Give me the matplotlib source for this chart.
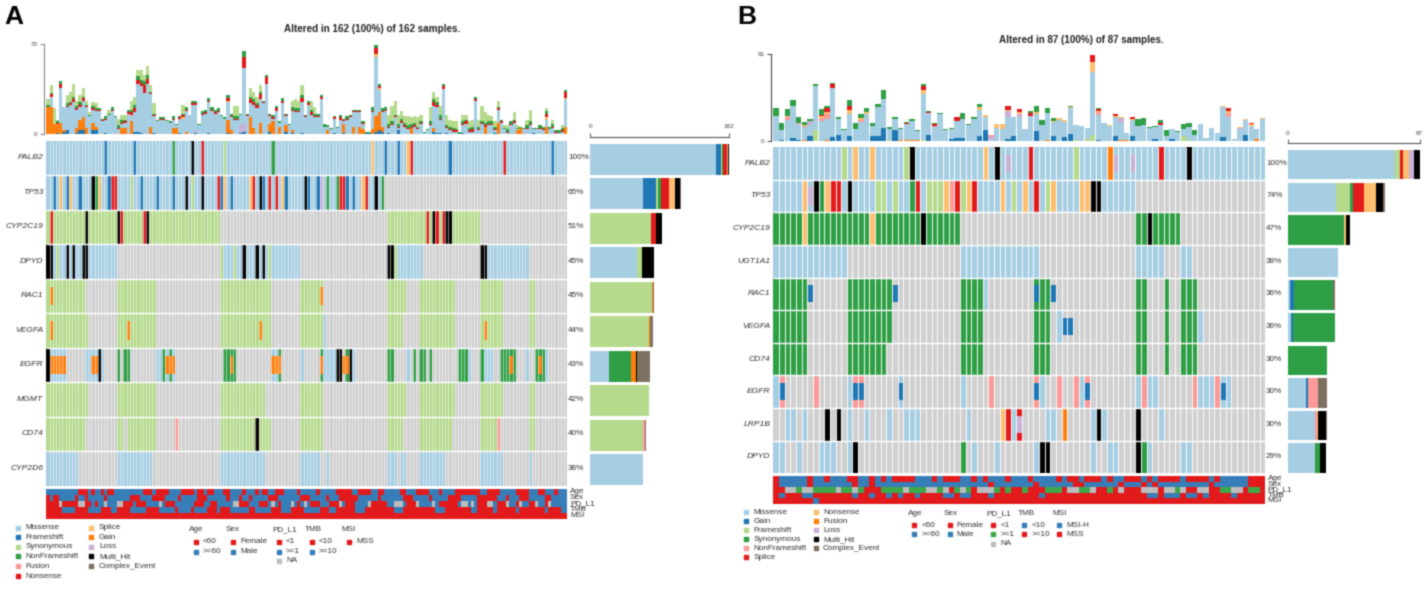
import numpy as np
import matplotlib
matplotlib.use("Agg")
import matplotlib.pyplot as plt
from matplotlib.colors import ListedColormap

plt.rcParams['font.family'] = ['Liberation Sans', 'DejaVu Sans']

W, H = 1428, 589
# sample classes: a missense-blue, b blue, c light green, d green, e pink, f red,
# g light orange, h orange, i purple, k black, m brown, . no alteration
CODES = ".abcdefghikm"
COLORS = ["#d0d0d0", "#a6cee3", "#1f78b4", "#b5da8c", "#2f9f45", "#fb9a99", "#e31a1c",
          "#fdbf6f", "#ff7f0e", "#cab2d6", "#000000", "#7d7262"]
ANNO_CODES = "rbng"
ANNO_COLORS = ["#e31a1c", "#377eb8", "#bdbdbd", "#3fa94a"]

genes_a = ["PALB2", "TP53", "CYP2C19", "DPYD", "RAC1", "VEGFA", "EGFR", "MGMT", "CD74", "CYP2D6"]
pct_a = ["100%", "65%", "51%", "45%", "45%", "44%", "43%", "42%", "40%", "38%"]
genes_b = ["PALB2", "TP53", "CYP2C19", "UGT1A1", "RAC1", "VEGFA", "CD74", "EGFR", "LRP1B", "DPYD"]
pct_b = ["100%", "74%", "47%", "38%", "36%", "36%", "30%", "30%", "30%", "29%"]
anno_names = ["Age", "Sex", "PD_L1", "TMB", "MSI"]

# tokens: later ones overwrite earlier ones, * marks a copy number box inside the cell
rows_a = [
    "a0-161 b18 b27 d39 k45 f48 c55 d70 g101 b105 b109 g112 f113 b125 f142 b157",
    "a0-104 b2 g4 b6 g7 b10 k14 d15 g16 b19 f20 f21 c26 b29 b34 b39 k43 c45 k48 f53 b54 g55 b57 g63 f64 "
    "k66 b67 f69 f71 g73 b74 k80 b81 b84 i85 d87 d90 f91 f92 b93 b95 g98 f99 k102 d104",
    "c0-53 f1 k12 k22 f23 f30 k31 c106-134 f118 k120 f121 f123 k124 k125",
    "a0-21 k0 k1 c3 k6 k8 k11 k12 a54-78 c54 c58 k61 k65 k67 c69 k106 k107 a108-116 c108 k135 k136 a137-149",
    "c0-11 *h1 c22-33 c54-69 c79-85 *h85 c106-111 c116-126 c135-141 c150-151",
    "c0-12 *h1 c22-33 *h25 c54-69 *h66 c79-85 a86 c106-110 c116-126 c135-141 *h136 c150-151",
    "k0 a1-5 *h1 *h2 *h3 *h4 *h5 a12-13 a14-16 *h14 *h15 k16 a17 d22 d24 d25 a34-39 d36 *h37 *h38 d38 *h39 "
    "d55-58 *h57 a70-71 *h70 *h71 d72 *h72 a79 d85 *h85 a86-89 k90 k91 *h92 d93 *h93 k94 a95 d106 d107 a112 "
    "d114 d116 d117 d119 d128-130 a131 d135 a136-138 d141-145 *h144 a149 d152-154 *h153 a155",
    "c0-12 c22-33 c54-67 c79-85 c106-111 c116-126 c135-141 c150-151",
    "c0-11 c22-23 c25-33 e40 c54-69 k65 c79-85 c106-110 c116-125 c135-139 e140 c150-151",
    "a0-9 a22-32 a54-67 a79-84 a87 a106-108 a110-111 a116-123 a135-141 a150",
]
rows_b = [
    "a0-86 c12 g14 g17 c23 k24 g37 k39 *i41 f45 c53 h59 *i60 *i63 f68 k73",
    "a0-63 g5 *i6 k7 d8 g9 f10 f11 k13 c18 c19 c21 d24 f25 c27-29 g30 e31 f32 c33 g34 f35 g40 c42 g44 f46 "
    "c48 g49 g54 g55 k56 k57",
    "d0-32 g5 g17 k26 d64-71 k66",
    "a0-12 a33-46 a64-68 a72-73",
    "d0-5 *b6 d13-20 *b21 d33-36 a37 d46-48 *b46 *b49 d64-65 d69 d72-74",
    "d0-5 d13-20 d33-36 d46-48 a50 *b51 *b52 d64-65 d69 d72-74 a75",
    "d0-5 d13-19 d33-36 d46-48 d64-65 d69 d72-74",
    "a0 e1 *b1 e7 a13 e14 e15 *b14 *b15 a22 *b22 a33 e38 e46 *b46 a47 e50 e53 a54 e55 *b55 a64 e65 a66 a67 "
    "e74 a75-77 e78 a79 *b79 a80",
    "a2 a3 a5 k9 k11 a13 a16 a20 a23-25 a34 g40 f41 a42 f43 *i43 a48 a49 h51 a56 k57 a58 k64 a68",
    "a0 a1 a4 a8-10 a13 k14 d33 a35 a39 a46 k47 k48 a56 a59 a60 k64 d65 a66 a72 a73",
]
side_a = ["a146 b6 c1 d2 f4 g2 k1", "a62 b15 c2 d3 f10 g7 k6 m1", "c71 f5 k7", "a54 c6 k14", "c72 h1 m1",
          "c68 h1 m4", "a22 d25 h6 k2 m15", "c68", "c62 e2 m1", "a62"]
side_b = ["a71 c3 f2 g4 i3 k4", "a32 c9 d2 f7 g8 k5 m1", "d37 g1 k3", "a33", "a1 b3 d26 m1",
          "a2 b1 d28", "d26", "a12 b1 e7 m6", "a18 e1 g1 k5 m1", "a18 d3 k4"]

anno_a = [
    "b0-161 r10-12 r14 r17 r19-20 r30-32 r34-37 r42-45 r47-48 r50-51 r55-56 r61 r65 r67-68 r71-73 r78 r84 r90-94 "
    "r97-100 r103-104 r110-111 r115-118 r122 r127-134 r137-140 r146-149 r153-154 r158",
    "b0-161 r0 r2-3 r9 r12 r18 r26-28 r33-36 r41 r47-49 r56 r60 r63 r69-71 r79-81 r87 r91-96 r103 r111-113 r119 "
    "r125-128 r134-139 r143 r147-149 r155-156",
    "b0-161 r0-3 r5-9 r12-13 r15 r24-26 r28-30 r37-39 r46-48 r51-52 r60-62 r66-68 r72 r78 r82-84 r88-90 r93-95 "
    "r101-105 r112-114 r122-127 r134-136 r140-142 r146 r150-151 r155 n4 n10-11 n18 n22-23 n35 n58-59 n70 n76 n80 "
    "n91 n100 n108-110 n115 n120 n129-130 n132 n137-138 n143 n147 n152 n156",
    "r0-161 b5-8 b13-16 b20-21 b26-30 b35-39 b41-44 b46-49 b53 b57-62 b65-69 b73-75 b80-84 b88-89 b96-98 b108-110 "
    "b121-123 b132-133 b139 b146 b155 b160-161",
    "r0-161",
]
anno_b = [
    "b0-86 r0 r6 r9 r13-14 r17 r19 r21-24 r28 r30-32 r35 r37 r41 r45 r50 r52-53 r55-57 r59 r62-64 r66 r68-71 "
    "r73-76 r78 r84-86",
    "b0-86 r0 r6 r14 r17 r38 r46 r53-54 r61 r65 r67 r77 r84-86",
    "r0-86 n2-3 g4 n5-6 g7-10 n11 g12-13 n14 g15 g19-22 n23 g24-26 n27-28 g29 n30 g32 n33 g34 n36-37 n38 g39 g41 "
    "g44 g48-50 n52-53 g54-55 n56 g59 n61 n65-67 n69-70 g71 n72 n75-76 g79-80 n81-82 g84-85",
    "r0-86 b1 b5-6 b14 b17 b20 b22 b25 b30-31 b33-34 b38 b47 b66-67 b69-70 b71 b73-74 b76 b81",
    "r0-86 b7",
]

# samples' mutation load, top bars
total_a = [14, 38, 16, 11, 41, 21, 30, 33, 39, 26, 30, 36, 26, 17, 25, 24, 20, 12, 14, 19,
           21, 14, 12, 15, 15, 19, 26, 29, 50, 50, 46, 53, 38, 24, 11, 13, 13, 11, 10, 14,
           8, 14, 23, 21, 15, 26, 26, 8, 18, 19, 28, 21, 19, 20, 15, 13, 30, 16, 22, 22,
           16, 64, 16, 36, 33, 29, 38, 26, 46, 16, 15, 22, 10, 28, 16, 8, 26, 27, 26, 38,
           15, 26, 26, 21, 16, 30, 8, 7, 5, 14, 6, 15, 12, 14, 15, 19, 19, 19, 10, 1,
           1, 21, 69, 39, 20, 21, 15, 22, 26, 15, 18, 14, 14, 8, 14, 13, 15, 2, 4, 21,
           33, 29, 22, 39, 15, 11, 10, 10, 2, 15, 15, 10, 11, 29, 11, 22, 14, 15, 14, 10,
           26, 11, 7, 7, 10, 17, 7, 5, 5, 11, 19, 5, 5, 7, 6, 20, 6, 11, 2, 3, 7, 34]
blue_a = {3: 1, 5: 2, 6: 3, 9: 1, 10: 3, 11: 3, 14: 3, 15: 3, 18: 1, 27: 2, 28: 2, 29: 1, 33: 1, 41: 1, 46: 1,
          50: 1, 56: 1, 60: 1, 61: 2, 69: 2, 74: 2, 76: 1, 79: 1, 89: 1, 92: 1, 99: 1, 100: 1, 102: 2, 103: 3,
          104: 2, 106: 1, 109: 3, 120: 2, 121: 1, 122: 1, 124: 1, 129: 1, 139: 1, 151: 1}
gain_a = {0: 21, 1: 21, 2: 8, 3: 7, 4: 9, 5: 1, 9: 4, 10: 8, 11: 10, 12: 5, 14: 6, 15: 3, 23: 5, 24: 5, 26: 10,
          32: 6, 39: 5, 40: 5, 43: 2, 56: 10, 57: 3, 63: 13, 64: 5, 66: 9, 69: 6, 70: 10, 72: 6, 74: 5, 76: 2,
          87: 3, 92: 7, 95: 6, 97: 6, 98: 4, 101: 4, 102: 12, 103: 14, 104: 4, 113: 5, 120: 3, 136: 6, 140: 9,
          146: 3, 147: 5, 155: 6, 161: 6}
purple_a = {60: 6, 61: 6, 46: 2, 21: 2, 148: 2, 158: 1}
splice_a = {26: 1, 42: 1, 56: 1, 102: 2, 103: 2, 155: 2, 161: 1}
red_a = "0201301121" "2210111110" "1011112333" "6411011001" "0121011011" "1111002111" "0913234151" \
        "1202101113" "1121120001" "0211111110" "0151111111" "1111111001" "3212111101" "2121111111" \
        "1101110001" "1001130110" "15"
green_a = "2101202122" "2111211121" "2122122332" "3311111112" "1112022122" "2222112222" "1412212121" \
          "2212112222" "1222212111" "1212111111" "1322222212" "2222211112" "2232122122" "1222212222" \
          "1112211112" "2112222212" "21"
syn_a = {0: 4, 1: 6, 2: 12, 3: 1, 6: 6, 7: 8, 8: 10, 9: 4, 10: 5, 11: 7, 12: 3, 13: 2, 14: 3, 15: 4, 19: 3, 22: 5,
         23: 4, 24: 4, 26: 7, 27: 6, 28: 5, 29: 8, 30: 5, 31: 7, 32: 5, 33: 8, 42: 7, 58: 8, 59: 8, 63: 7, 64: 6,
         65: 5, 66: 5, 76: 5, 77: 7, 78: 6, 79: 8, 82: 7, 83: 5, 106: 7, 107: 12, 108: 11, 109: 7, 110: 6, 111: 5,
         112: 7, 113: 5, 114: 5, 115: 7, 116: 5, 119: 11, 120: 6, 121: 4, 122: 7, 124: 8, 125: 5, 126: 5, 127: 6,
         129: 5, 130: 4, 131: 5, 132: 5, 134: 5, 135: 12, 136: 8, 137: 5, 138: 4, 139: 4, 140: 5, 142: 2, 143: 3,
         145: 6, 146: 2, 149: 4, 150: 9, 155: 2, 157: 3, 160: 2}

total_b = [34, 19, 33, 43, 25, 20, 23, 59, 33, 36, 60, 25, 12, 43, 19, 28, 34, 19, 39, 53,
           15, 25, 14, 20, 23, 11, 59, 31, 19, 29, 12, 14, 25, 29, 18, 25, 39, 27, 6, 18,
           18, 36, 25, 33, 13, 31, 36, 22, 34, 24, 24, 22, 36, 17, 16, 14, 90, 34, 19, 17,
           28, 25, 8, 25, 23, 24, 15, 16, 22, 11, 13, 10, 18, 19, 11, 18, 3, 14, 8, 36,
           34, 2, 15, 23, 19, 12, 24]
blue_b = {1: 1, 3: 3, 4: 1, 6: 5, 10: 4, 11: 6, 13: 5, 17: 5, 18: 5, 19: 14, 21: 11, 27: 6, 31: 2, 32: 3, 33: 3,
          36: 5, 37: 11, 41: 2, 42: 5, 46: 10, 49: 5, 51: 4, 52: 7, 57: 1, 60: 5, 63: 5, 67: 2, 70: 2, 79: 4, 83: 6}
orange_b = {5: 1, 9: 1, 22: 1, 23: 1, 24: 1, 25: 1, 48: 1, 61: 1, 62: 1, 85: 2}
syn_b = {7: 11, 20: 1, 26: 1, 53: 1, 55: 2, 56: 6, 72: 5, 73: 1}
purple_b = {6: 4, 38: 3, 41: 6, 43: 3, 61: 5, 82: 1}
pink_b = {2: 3, 4: 1, 5: 1, 8: 3, 9: 5, 15: 2, 28: 1, 38: 2, 57: 3, 80: 4}
splice_b = {2: 1, 5: 1, 8: 2, 9: 2, 13: 4, 15: 2, 16: 2, 26: 4, 36: 3, 37: 2, 39: 4, 40: 6, 41: 1, 43: 2, 44: 1,
            46: 2, 49: 1, 50: 2, 51: 2, 52: 1, 56: 10, 57: 1, 59: 1, 60: 1, 61: 1, 63: 1, 79: 1, 80: 2, 82: 1,
            83: 1, 84: 2, 86: 1}
red_b = {8: 1, 9: 4, 10: 4, 13: 4, 23: 1, 26: 4, 27: 1, 28: 2, 32: 4, 41: 4, 43: 3, 45: 3, 56: 8, 57: 2, 60: 2,
         63: 2, 68: 2, 80: 3, 84: 1}
green_b = [8, 8, 7, 6, 6, 3, 2, 2, 6, 2, 1, 2, 1, 7, 7, 4, 4, 3, 4, 9,
           3, 2, 1, 1, 2, 1, 2, 1, 1, 1, 1, 1, 0, 6, 1, 2, 4, 0, 0, 0,
           0, 0, 0, 0, 0, 2, 6, 5, 5, 3, 0, 0, 1, 0, 0, 0, 0, 1, 0, 0,
           0, 0, 0, 0, 7, 7, 1, 1, 3, 6, 0, 1, 5, 4, 5, 0, 0, 0, 0, 0,
           0, 0, 0, 0, 0, 0, 0]

legend_a = ["Missense", "Frameshift", "Synonymous", "NonFrameshift", "Fusion", "Nonsense",
            "Splice", "Gain", "Loss", "Multi_Hit", "Complex_Event"]
legend_a_keys = "abcdefghikm"
legend_b = ["Missense", "Gain", "Frameshift", "Synonymous", "NonFrameshift", "Splice",
            "Nonsense", "Fusion", "Loss", "Multi_Hit", "Complex_Event"]
legend_b_keys = "abcdefghikm"


def read_tokens(text, n, codes):
    row = np.zeros(n, dtype=int)
    boxes = []
    for tok in text.split():
        over = tok[0] == "*"
        tok = tok.lstrip("*")
        span = tok[1:].split("-")
        i0, i1 = int(span[0]), int(span[-1])
        if over:
            boxes.append((i0, tok[0]))
        else:
            row[i0:i1 + 1] = codes.index(tok[0])
    return row, boxes


def px_axes(x0, y0, x1, y1):
    return fig.add_axes([x0 / W, 1 - y1 / H, (x1 - x0) / W, (y1 - y0) / H])


def sparse(d, n):
    out = np.zeros(n)
    for k, v in d.items():
        out[k] = v
    return out


def heat(box, rows, n, labels, pcts, vline, gene_x, pct_x):
    ax = px_axes(*box)
    parsed = [read_tokens(r, n, CODES) for r in rows]
    m = np.array([p[0] for p in parsed])
    ax.pcolormesh(np.arange(n + 1), np.arange(len(rows) + 1), m,
                  cmap=ListedColormap(COLORS), vmin=-0.5, vmax=len(COLORS) - 0.5)
    for r, p in enumerate(parsed):
        for col, code in p[1]:
            ax.bar(col + 0.5, 0.53, bottom=r + 0.235, width=1, color=COLORS[CODES.index(code)], linewidth=0)
    ax.vlines(np.arange(1, n), 0, len(rows), color="white", lw=vline[0], alpha=vline[1])
    ax.hlines(np.arange(1, len(rows)), 0, n, color="white", lw=1.0)
    ax.set_xlim(0, n)
    ax.set_ylim(len(rows), 0)
    ax.axis("off")
    for r, (g, p) in enumerate(zip(labels, pcts)):
        y = r + 0.5
        ax.text(gene_x, y, g, transform=ax.get_yaxis_transform(), ha="right", va="center",
                fontsize=6.1, style="italic", color="#333333")
        ax.text(pct_x, y, p, transform=ax.get_yaxis_transform(), ha="left", va="center",
                fontsize=5.9, color="#333333")
    return ax


def anno(box, rows, n, label_x):
    ax = px_axes(*box)
    m = np.array([read_tokens(r, n, ANNO_CODES)[0] for r in rows])
    ax.pcolormesh(np.arange(n + 1), np.arange(len(rows) + 1), m,
                  cmap=ListedColormap(ANNO_COLORS), vmin=-0.5, vmax=3.5)
    ax.set_xlim(0, n)
    ax.set_ylim(len(rows), 0)
    ax.axis("off")
    for r, name in enumerate(anno_names):
        ax.text(label_x, r + 0.5, name, transform=ax.get_yaxis_transform(), ha="left", va="center",
                fontsize=5.9, color="#333333")


def top_bars(box, stacks, ymax, width, axis_color):
    ax = px_axes(*box)
    n = len(stacks[0][0])
    bottom = np.zeros(n)
    for vals, code in stacks:
        ax.bar(np.arange(n) + 0.5, vals, bottom=bottom, width=width,
               color=COLORS[CODES.index(code)], linewidth=0)
        bottom = bottom + vals
    ax.set_xlim(0, n)
    ax.set_ylim(0, ymax)
    for s in ["top", "right", "bottom"]:
        ax.spines[s].set_visible(False)
    ax.spines["left"].set_position(("outward", 1.7))
    ax.spines["left"].set_color(axis_color)
    ax.spines["left"].set_linewidth(0.8)
    ax.set_xticks([])
    ax.set_yticks([0, ymax])
    ax.tick_params(axis="y", length=3.2, width=0.7, color=axis_color, labelsize=4.6, pad=1.5, labelcolor="#444444")
    ax.patch.set_alpha(0)


def side_bars(box, rows, n):
    ax = px_axes(*box)
    for r, text in enumerate(rows):
        left = 0
        for tok in text.split():
            ax.barh(r + 0.5, int(tok[1:]), left=left, height=0.9,
                    color=COLORS[CODES.index(tok[0])], linewidth=0)
            left += int(tok[1:])
    ax.set_xlim(0, n)
    ax.set_ylim(len(rows), 0)
    for s in ["left", "right", "bottom"]:
        ax.spines[s].set_visible(False)
    ax.spines["top"].set_position(("outward", 3.6))
    ax.spines["top"].set_color("#555555")
    ax.spines["top"].set_linewidth(0.8)
    ax.set_yticks([])
    ax.xaxis.tick_top()
    ax.set_xticks([0, n])
    ax.tick_params(axis="x", length=3.0, width=0.7, color="#555555", labelsize=4.6, pad=2.5, labelcolor="#444444")
    ax.patch.set_alpha(0)


def legend_block(ov, x_mark, x_text, ys, names, keys):
    for y, name, key in zip(ys, names, keys):
        ov.plot([x_mark], [y], marker="s", ms=2.6, color=COLORS[CODES.index(key)], ls="none")
        ov.text(x_text, y, name, ha="left", va="center", fontsize=5.9, color="#333333")


def anno_block(ov, title, x_title, y_title, x_mark, x_text, ys, names, colors):
    ov.text(x_title, y_title, title, ha="left", va="center", fontsize=5.9, color="#333333")
    for y, name, c in zip(ys, names, colors):
        ov.plot([x_mark], [y], marker="s", ms=2.6, color=c, ls="none")
        ov.text(x_text, y, name, ha="left", va="center", fontsize=5.9, color="#333333")


fig = plt.figure(figsize=(W / 100, H / 100), dpi=100)
RED, BLUE, GREY, GREEN = ANNO_COLORS[0], ANNO_COLORS[1], ANNO_COLORS[2], ANNO_COLORS[3]

# panel A
n_a = 162
heat((46.3, 140.7, 567.3, 485.7), rows_a, n_a, genes_a, pct_a, (0.5, 0.75), -0.006, 1.0015)
anno((46.3, 489, 567.3, 518.7), anno_a, n_a, 1.005)
digits = lambda s: np.array([int(c) for c in s], dtype=float)
others_a = sparse(blue_a, n_a) + sparse(gain_a, n_a) + sparse(purple_a, n_a) + sparse(splice_a, n_a) \
    + digits(red_a) + digits(green_a) + sparse(syn_a, n_a)
top_bars((46.3, 43.7, 567.3, 134.3),
         [(sparse(blue_a, n_a), "b"), (sparse(gain_a, n_a), "h"), (sparse(purple_a, n_a), "i"),
          (np.clip(np.array(total_a) - others_a, 0, None), "a"), (sparse(splice_a, n_a), "g"),
          (digits(red_a), "f"), (digits(green_a), "d"), (sparse(syn_a, n_a), "c")], 70, 1.0, "#888888")
side_bars((590.3, 142, 729.3, 487), side_a, n_a)

# panel B
n_b = 87
heat((773.3, 147, 1265.3, 473.3), rows_b, n_b, genes_b, pct_b, (0.75, 0.9), -0.006, 1.0015)
anno((773.3, 476, 1265.3, 503.7), anno_b, n_b, 1.005)
others_b = sparse(blue_b, n_b) + sparse(orange_b, n_b) + sparse(syn_b, n_b) + sparse(purple_b, n_b) \
    + sparse(pink_b, n_b) + sparse(splice_b, n_b) + sparse(red_b, n_b) + np.array(green_b)
top_bars((773.3, 53.7, 1265.3, 141),
         [(sparse(orange_b, n_b), "h"), (sparse(syn_b, n_b), "c"), (sparse(blue_b, n_b), "b"),
          (np.clip(np.array(total_b) - others_b, 0, None), "a"), (sparse(purple_b, n_b), "i"),
          (sparse(pink_b, n_b), "e"), (sparse(splice_b, n_b), "g"), (sparse(red_b, n_b), "f"),
          (np.array(green_b, dtype=float), "d")], 91, 0.94, "#444444")
side_bars((1288, 148.4, 1419.7, 474.4), side_b, n_b)

# titles and legends in pixel space
ov = fig.add_axes([0, 0, 1, 1])
ov.set_xlim(0, W)
ov.set_ylim(H, 0)
ov.axis("off")
ov.patch.set_alpha(0)
ov.text(4, 24.5, "A", fontsize=19, fontweight="bold", ha="left", va="baseline", color="black")
ov.text(737, 24.5, "B", fontsize=19, fontweight="bold", ha="left", va="baseline", color="black")
ov.text(372, 29, "Altered in 162 (100%) of 162 samples.", fontsize=7.1, fontweight="bold",
        ha="center", va="center", color="#222222")
ov.text(1081, 40, "Altered in 87 (100%) of 87 samples.", fontsize=7.1, fontweight="bold",
        ha="center", va="center", color="#222222")

ya1 = [527.7, 537.3, 547, 556.3, 566, 576]
legend_block(ov, 17.7, 25.7, ya1, legend_a[:6], legend_a_keys[:6])
legend_block(ov, 91.3, 99, ya1, legend_a[6:], legend_a_keys[6:])
ya2 = [541.7, 551.7, 561]
anno_block(ov, "Age", 189, 529.3, 195.7, 202.7, ya2, ["<60", ">=60"], [RED, BLUE])
anno_block(ov, "Sex", 226, 529.3, 233, 240, ya2, ["Female", "Male"], [RED, BLUE])
anno_block(ov, "PD_L1", 272.3, 529.3, 279.3, 286, ya2, ["<1", ">=1", "NA"], [RED, BLUE, GREY])
anno_block(ov, "TMB", 304.3, 529.3, 311.7, 319, ya2, ["<10", ">=10"], [RED, BLUE])
anno_block(ov, "MSI", 341.7, 529.3, 349, 356.7, ya2, ["MSS"], [RED])

yb1 = [512.3, 521.3, 530, 539.3, 548.3, 557.3]
legend_block(ov, 745.7, 753.3, yb1, legend_b[:6], legend_b_keys[:6])
legend_block(ov, 815.7, 823, yb1, legend_b[6:], legend_b_keys[6:])
yb2 = [525.3, 534.3, 543.7]
anno_block(ov, "Age", 907.7, 513.3, 914.3, 921.7, yb2, ["<60", ">=60"], [RED, BLUE])
anno_block(ov, "Sex", 943.3, 513.3, 950, 956.7, yb2, ["Female", "Male"], [RED, BLUE])
anno_block(ov, "PD_L1", 986.7, 513.3, 992.7, 1000.7, yb2, ["<1", ">=1", "NA"], [RED, GREEN, GREY])
anno_block(ov, "TMB", 1017.7, 513.3, 1024.3, 1031.7, yb2, ["<10", ">=10"], [BLUE, RED])
anno_block(ov, "MSI", 1052.3, 513.3, 1059.3, 1066.7, yb2, ["MSI-H", "MSS"], [BLUE, RED])

fig.savefig("out.png", dpi=100)

# the reference is a soft, resampled scan: soften the render the same way
img = plt.imread("out.png")[:, :, :3]
kernel = [0.2, 0.6, 0.2]
for axis in (0, 1):
    img = kernel[0] * np.roll(img, 1, axis) + kernel[1] * img + kernel[2] * np.roll(img, -1, axis)
plt.imsave("out.png", img)
